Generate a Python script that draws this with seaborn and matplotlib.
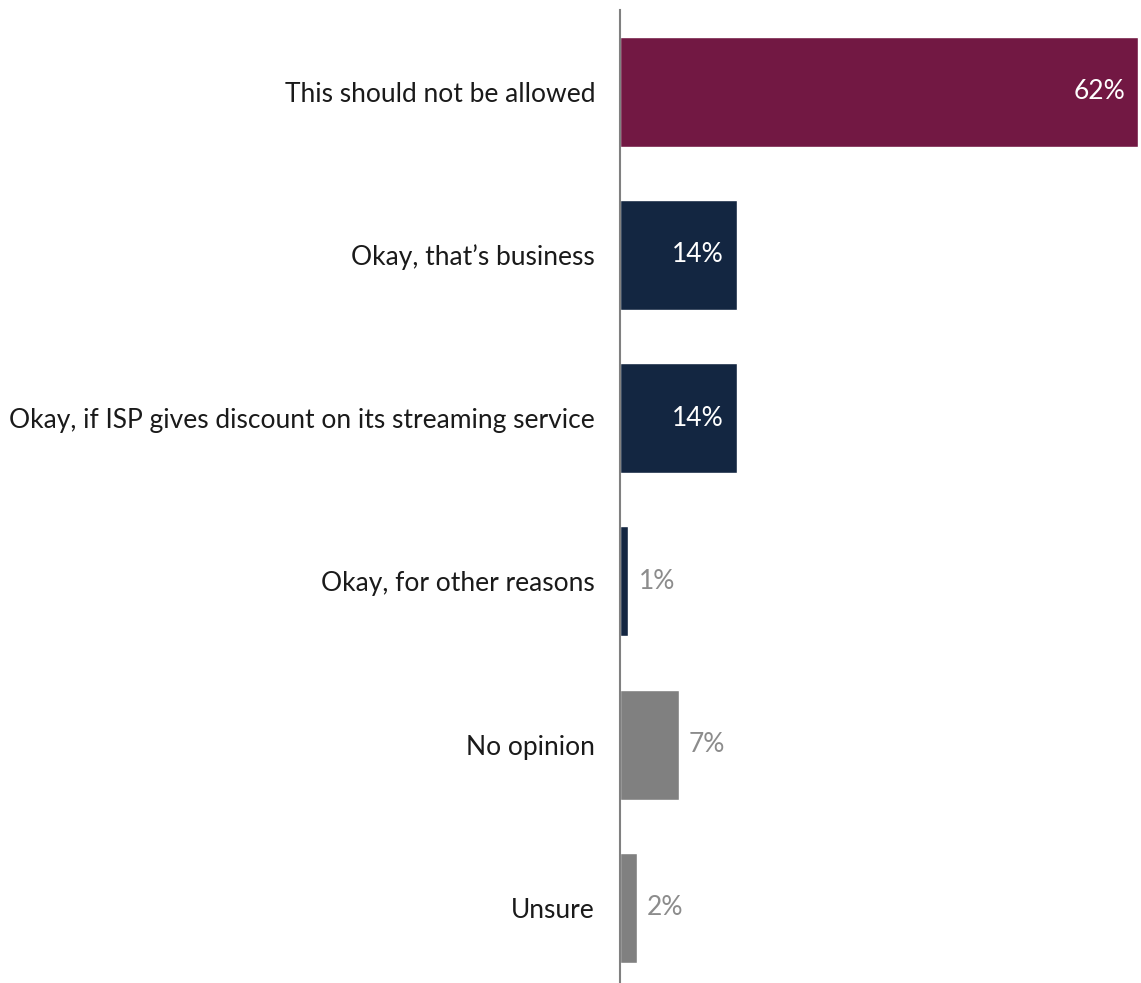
import pandas as pd
import matplotlib
matplotlib.use("Agg")
import matplotlib.pyplot as plt
import seaborn as sns

# svar på frågan, i procent
kategorier = ["This should not be allowed",
              "Okay, that\u2019s business",
              "Okay, if ISP gives discount on its streaming service",
              "Okay, for other reasons",
              "No opinion",
              "Unsure"]
andel = [62, 14, 14, 1, 7, 2]
farger = ["#721843", "#132641", "#132641", "#132641", "#808080", "#808080"]

df = pd.DataFrame({"svar": kategorier, "andel": andel})

sns.set_style("white")
plt.rcParams["font.family"] = ["Lato", "DejaVu Sans"]

fig = plt.figure(figsize=(11.41, 9.83), dpi=100)
ax = fig.add_axes([620 / 1141, 0, 521 / 1141, 973 / 983])

sns.barplot(data=df, x="andel", y="svar", hue="svar", palette=farger,
            orient="h", width=0.674, legend=False, ax=ax, saturation=1)

ax.set_xlim(0, 62.3)
ax.set_ylim(5.46, -0.5)
ax.set_xlabel("")
ax.set_ylabel("")
ax.set_xticks([])
ax.tick_params(axis="y", length=0, pad=18, labelsize=19, labelcolor="#1a1a1a")

sns.despine(ax=ax, top=True, right=True, bottom=True)
ax.spines["left"].set_color("#808080")
ax.spines["left"].set_linewidth(1.5)

# värdeetiketter
for i, v in enumerate(andel):
    if v >= 10:
        ax.text(v - 1.6, i, f"{v}%", ha="right", va="center",
                color="white", fontsize=19)
    else:
        ax.text(v + 1.2, i, f"{v}%", ha="left", va="center",
                color="#8c8c8c", fontsize=19)

fig.savefig("out.png", dpi=100)
